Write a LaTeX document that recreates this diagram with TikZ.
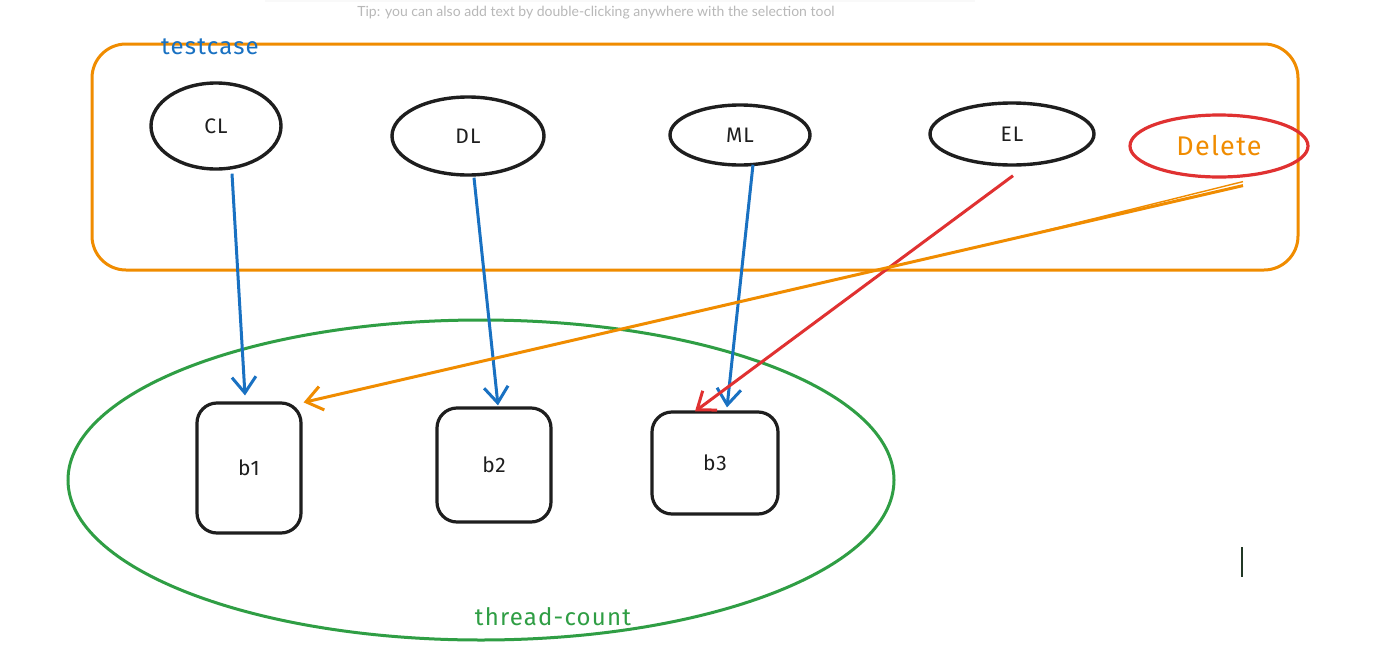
\documentclass[tikz,border=0pt]{standalone}
\usepackage{fontspec}
\setmainfont{Fira Sans}
\newfontfamily\hand[LetterSpace=5]{Fira Sans}
\newfontfamily\tipfont{Lato}
\usetikzlibrary{shapes.geometric,arrows.meta,calc}
\definecolor{ink}{HTML}{1E1E1E}
\definecolor{xblue}{HTML}{1971C2}
\definecolor{xgreen}{HTML}{2F9E44}
\definecolor{xorange}{HTML}{F08C00}
\definecolor{xred}{HTML}{E03131}
\definecolor{tipgray}{HTML}{B8B8B8}
\tikzset{
  oval/.style={ellipse, draw=ink, line width=3.4pt, inner sep=0pt, font=\hand\fontsize{21}{24}\selectfont, text=ink},
  blk/.style={rectangle, rounded corners=20pt, draw=ink, line width=3.2pt, inner sep=0pt, font=\hand\fontsize{21}{24}\selectfont, text=ink},
  conn/.style={line width=3pt, -{Straight Barb[length=16pt,width=24pt]}},
  lbl/.style={font=\hand\fontsize{24}{26}\selectfont, inner sep=0pt}
}
\begin{document}
\begin{tikzpicture}[x=1pt,y=-1pt]
\useasboundingbox (0,0) rectangle (1382,667);
\fill[white] (0,0) rectangle (1382,667);
% top toolbar shadow
\fill[gray!5] (265,-12) rectangle (975,2);
\node[font=\tipfont\fontsize{14}{16}\selectfont, text=tipgray, inner sep=0pt] (tip) at (596,13) {Tip: you can also add text by double-clicking anywhere with the selection tool};

% containers
\node[draw=xorange, line width=3pt, rounded corners=34pt, minimum width=1206pt, minimum height=226pt, inner sep=0pt] (tcbox) at (695,157) {};
\node[lbl, text=xblue] (tclabel) at (210,47) {testcase};
\node[ellipse, draw=xgreen, line width=3pt, minimum width=826pt, minimum height=320pt, inner sep=0pt] (thr) at (481,480) {};
\node[lbl, text=xgreen] (thrlabel) at (553,617) {thread-count};

% ellipses
\node[oval, minimum width=130pt, minimum height=86pt] (CL) at (216,126) {CL};
\node[oval, minimum width=152pt, minimum height=78pt] (DL) at (468,136) {DL};
\node[oval, minimum width=140pt, minimum height=60pt] (ML) at (740,135) {ML};
\node[oval, minimum width=164pt, minimum height=62pt] (EL) at (1012,134) {EL};
\node[ellipse, draw=xred, line width=3.2pt, inner sep=0pt, minimum width=178pt, minimum height=62pt, text=xorange, font=\hand\fontsize{27}{30}\selectfont] (Del) at (1219,146) {Delete};

% boxes
\node[blk, minimum width=104pt, minimum height=130pt] (b1) at (249,468) {b1};
\node[blk, minimum width=114pt, minimum height=114pt] (b2) at (494,465) {b2};
\node[blk, minimum width=126pt, minimum height=102pt] (b3) at (715,463) {b3};

% connectors
\draw[conn, xblue] ([xshift=16pt,yshift=-3pt]CL.south) -- ([xshift=-4pt,yshift=6pt]b1.north);
\draw[conn, xblue] ([xshift=6pt,yshift=-1pt]DL.south) -- ([xshift=4pt,yshift=1pt]b2.north);
\draw[conn, xblue] ([xshift=13pt,yshift=2pt]ML.south) -- ([xshift=12pt,yshift=3pt]b3.north);
\draw[conn, xred] ([xshift=1pt,yshift=-9pt]EL.south) -- ([xshift=-20pt,yshift=-1pt]b3.north);
\draw[conn, xorange] ([xshift=24pt,yshift=-7pt]Del.south) -- ([xshift=1pt,yshift=-1pt]b1.north east);
\coordinate (dblend) at (1040,232);
\draw[xorange, line width=1.4pt] ([xshift=24pt,yshift=-3pt]Del.south) -- (dblend);

% cursor
\coordinate (cur) at (1242,547);
\draw[ink!80!xgreen, line width=1.2pt] (cur) -- ++(0,30);
\end{tikzpicture}
\end{document}
